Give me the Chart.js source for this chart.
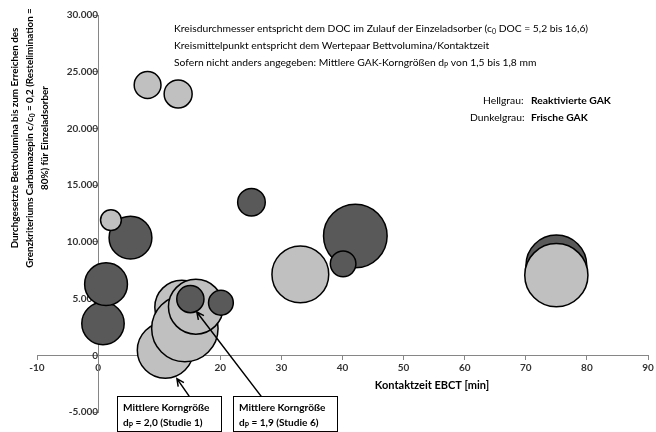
<!DOCTYPE html>
<html>
<head>
<meta charset="utf-8">
<script src="https://cdn.jsdelivr.net/npm/chart.js@4.4.1/dist/chart.umd.min.js"></script>
<style>
  html, body { margin: 0; padding: 0; background: #fff; }
  #wrap { width: 656px; height: 432px; }
</style>
</head>
<body>
<div id="wrap"><canvas id="chart" width="656" height="432"></canvas></div>
<script>
// One entry per bubble, listed in drawing order (later ones sit on top)
const contactTime = [75, 75, 42.1, 40.1, 33.1, 25.1, 5.3, 2.1, 0.8, 1.3, 13.7, 11.0, 14.2, 16.0, 15.1, 20.1, 8.1, 13.1];
const bedVolumes  = [7920, 7060, 10520, 8060, 7130, 13490, 10370, 11920, 2800, 6270, 4240, 440, 2360, 4280, 4960, 4630, 23830, 23040];
const docInflow   = [15.2, 15.8, 15.9, 6.4, 14.2, 6.9, 10.7, 5.2, 10.6, 10.7, 13.5, 14.0, 16.6, 13.7, 6.8, 6.2, 6.7, 7.0];
const gakType     = ['frisch', 'reakt', 'frisch', 'frisch', 'reakt', 'frisch', 'frisch', 'reakt', 'frisch', 'frisch',
                     'reakt', 'reakt', 'reakt', 'reakt', 'frisch', 'frisch', 'reakt', 'reakt'];

// Axis ranges
const xMin = -10, xMax = 90, xStep = 10;
const yMin = -5000, yMax = 30000, yStep = 5000;

const FONT = 'Lato';
const PX_PER_DOC = 2.0;   // bubble diameter ~ DOC
const COLORS = { reakt: '#c0c0c0', frisch: '#595959' };

const deNum = (n) => String(n).replace(/\B(?=(\d{3})+(?!\d))/g, '.');

/* text helpers */
function runsWidth(ctx, runs, size) {
  let w = 0;
  runs.forEach(r => {
    ctx.font = `${r.b ? 'bold ' : ''}${r.sub ? size * 0.68 : size}px ${FONT}`;
    w += ctx.measureText(r.t).width;
  });
  return w;
}
function drawRuns(ctx, x, y, runs, size) {
  runs.forEach(r => {
    const s = r.sub ? size * 0.68 : size;
    ctx.font = `${r.b ? 'bold ' : ''}${s}px ${FONT}`;
    ctx.fillText(r.t, x, y + (r.sub ? size * 0.22 : 0));
    x += ctx.measureText(r.t).width;
  });
}
function arrow(ctx, x1, y1, x2, y2) {
  const a = Math.atan2(y2 - y1, x2 - x1), L = 8, s = 0.45;
  ctx.beginPath();
  ctx.moveTo(x1, y1); ctx.lineTo(x2, y2);
  ctx.moveTo(x2 - L * Math.cos(a - s), y2 - L * Math.sin(a - s));
  ctx.lineTo(x2, y2);
  ctx.lineTo(x2 - L * Math.cos(a + s), y2 - L * Math.sin(a + s));
  ctx.stroke();
}

const annotations = {
  id: 'annotations',
  afterDatasetsDraw(chart) {
    const { ctx, scales: { x, y } } = chart;
    ctx.save();
    ctx.strokeStyle = '#000';
    ctx.lineWidth = 1.5;
    // arrows from the boxes to the bubbles (data coordinates)
    arrow(ctx, x.getPixelForValue(14.9), y.getPixelForValue(-3600), x.getPixelForValue(12.9), y.getPixelForValue(-2060));
    arrow(ctx, x.getPixelForValue(26.7), y.getPixelForValue(-3620), x.getPixelForValue(16.15), y.getPixelForValue(3820));
    ctx.restore();
  },
  afterDraw(chart) {
    const { ctx } = chart;
    ctx.save();
    ctx.fillStyle = '#000';
    ctx.textBaseline = 'alphabetic';
    ctx.textAlign = 'left';

    // note block
    const ns = 10.3;
    drawRuns(ctx, 174, 32, [{ t: 'Kreisdurchmesser entspricht dem DOC im Zulauf der Einzeladsorber (c' }, { t: '0', sub: true }, { t: ' DOC = 5,2 bis 16,6)' }], ns);
    drawRuns(ctx, 174, 49, [{ t: 'Kreismittelpunkt entspricht dem Wertepaar Bettvolumina/Kontaktzeit' }], ns);
    drawRuns(ctx, 174, 66, [{ t: 'Sofern nicht anders angegeben: Mittlere GAK-Korngrößen d' }, { t: 'P', sub: true }, { t: ' von 1,5 bis 1,8 mm' }], ns);

    // colour legend
    ctx.font = `${ns}px ${FONT}`;
    ctx.fillText('Hellgrau:', 483, 104);
    ctx.fillText('Dunkelgrau:', 470, 121);
    ctx.font = `bold ${ns}px ${FONT}`;
    ctx.fillText('Reaktivierte GAK', 531, 104);
    ctx.fillText('Frische GAK', 531, 121);

    // x axis title
    ctx.textAlign = 'center';
    ctx.font = `bold 11px ${FONT}`;
    ctx.fillText('Kontaktzeit EBCT [min]', 432, 389);

    // y axis title, three rotated lines
    const ys = 9.8;
    const yLines = [
      [{ t: 'Durchgesetzte Bettvolumina bis zum Erreichen des', b: true }],
      [{ t: 'Grenzkriteriums Carbamazepin c/c', b: true }, { t: '0', b: true, sub: true }, { t: ' = 0,2 (Restelimination =', b: true }],
      [{ t: '80%) für Einzeladsorber', b: true }]
    ];
    ctx.textAlign = 'left';
    yLines.forEach((runs, i) => {
      ctx.save();
      ctx.translate(18 + i * 15, 138);
      ctx.rotate(-Math.PI / 2);
      drawRuns(ctx, -runsWidth(ctx, runs, ys) / 2, 0, runs, ys);
      ctx.restore();
    });

    // boxes under the axis
    ctx.strokeStyle = '#000';
    ctx.lineWidth = 1;
    ctx.strokeRect(117.5, 396.5, 104, 35);
    ctx.strokeRect(233.5, 396.5, 104, 35);
    const bs = 10.1;
    drawRuns(ctx, 123, 411, [{ t: 'Mittlere Korngröße', b: true }], bs);
    drawRuns(ctx, 123, 426, [{ t: 'd', b: true }, { t: 'P', b: true, sub: true }, { t: ' = 2,0 (Studie 1)', b: true }], bs);
    drawRuns(ctx, 239, 411, [{ t: 'Mittlere Korngröße', b: true }], bs);
    drawRuns(ctx, 239, 426, [{ t: 'd', b: true }, { t: 'P', b: true, sub: true }, { t: ' = 1,9 (Studie 6)', b: true }], bs);
    ctx.restore();
  }
};

const points = contactTime.map((t, i) => ({ x: t, y: bedVolumes[i], r: docInflow[i] * PX_PER_DOC }));

new Chart(document.getElementById('chart'), {
  type: 'bubble',
  data: {
    datasets: [{
      label: 'GAK',
      data: points,
      backgroundColor: gakType.map(g => COLORS[g]),
      borderColor: '#000',
      borderWidth: 1.5,
      clip: false
    }]
  },
  options: {
    responsive: false,
    devicePixelRatio: 1,
    animation: false,
    layout: { autoPadding: false, padding: { left: 37, right: 8, top: 15, bottom: 20 } },
    plugins: { legend: { display: false }, tooltip: { enabled: false } },
    scales: {
      x: {
        type: 'linear', min: xMin, max: xMax,
        position: { y: 0 },
        ticks: { stepSize: xStep, color: '#333', font: { family: FONT, size: 10, weight: 'bold' }, padding: 2 },
        grid: { drawOnChartArea: false, tickLength: 4, color: '#868686' },
        border: { color: '#868686', width: 1 }
      },
      y: {
        type: 'linear', min: yMin, max: yMax,
        position: { x: 0 },
        ticks: { stepSize: yStep, color: '#333', font: { family: FONT, size: 10, weight: 'bold' }, padding: 4, callback: v => deNum(v) },
        grid: { drawOnChartArea: false, tickLength: 5, color: '#868686' },
        border: { color: '#868686', width: 1 }
      }
    }
  },
  plugins: [annotations]
});
</script>
</body>
</html>
